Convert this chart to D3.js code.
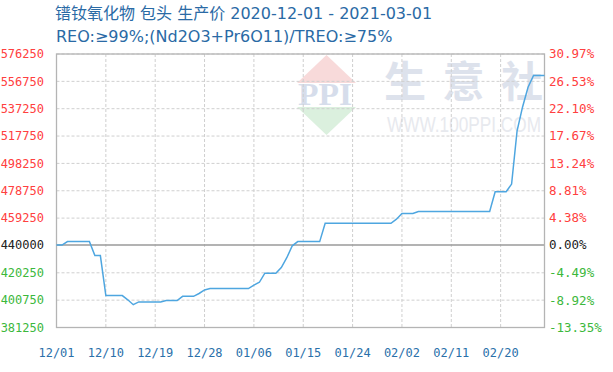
<!DOCTYPE html>
<html><head><meta charset="utf-8">
<script src="https://cdn.jsdelivr.net/npm/d3@7"></script>
<style>body{margin:0;background:#fff}svg{display:block}</style>
</head><body>
<svg id="c" width="613" height="372"></svg>
<script>
const titleLine1 = "镨钕氧化物 包头 生产价 2020-12-01 - 2021-03-01";
const titleLine2 = "REO:≥99%;(Nd2O3+Pr6O11)/TREO:≥75%";
const startDate = "2020-12-01";
const endDate = "2021-02-28";
const baseValue = 440000;
const yTicks = [381250, 400750, 420250, 440000, 459250, 478750, 498250, 517750, 537250, 556750, 576250];
const yPctLabels = ["-13.35%", "-8.92%", "-4.49%", "0.00%", "4.38%", "8.81%", "13.24%", "17.67%", "22.10%", "26.53%", "30.97%"];
const xTickLabels = ["12/01", "12/10", "12/19", "12/28", "01/06", "01/15", "01/24", "02/02", "02/11", "02/20"];
const prices = [
  440000, 440000, 442500, 442500, 442500, 442500, 442500, 432500, 432500, 404000,
  404000, 404000, 404000, 401000, 397500, 399500, 399500, 399500, 399500, 399500,
  400500, 400500, 400500, 403500, 403500, 403500, 405500, 408000, 409000, 409000,
  409000, 409000, 409000, 409000, 409000, 409000, 411500, 413500, 420000, 420000,
  420000, 424000, 431000, 439500, 442500, 442500, 442500, 442500, 442500, 455500,
  455500, 455500, 455500, 455500, 455500, 455500, 455500, 455500, 455500, 455500,
  455500, 455500, 458500, 462500, 462500, 462500, 464000, 464000, 464000, 464000,
  464000, 464000, 464000, 464000, 464000, 464000, 464000, 464000, 464000, 464000,
  478000, 478000, 478000, 483500, 521500, 538500, 552500, 561000, 561000, 561000
];

const parse = d3.timeParse("%Y-%m-%d");
const dates = d3.timeDay.range(parse(startDate), d3.timeDay.offset(parse(endDate), 1));

const svg = d3.select("#c");
const L = 56.5, R = 544.5, T = 54, B = 327.5;
const x = d3.scaleTime().domain([dates[0], dates[dates.length - 1]]).range([L, R]);
const y = d3.scaleLinear().domain([yTicks[0], yTicks[yTicks.length - 1]]).range([B, T]);

const mono = "'DejaVu Sans Mono', monospace";
const blue = "#2a6aa5";

// titles
svg.append("text").attr("x", 55).attr("y", 19).attr("fill", blue)
  .attr("font-family", "'DejaVu Sans','Noto Sans CJK SC',sans-serif").attr("font-size", 16).text(titleLine1);
svg.append("text").attr("x", 56).attr("y", 42).attr("fill", blue)
  .attr("font-family", "'DejaVu Sans','Noto Sans CJK SC',sans-serif").attr("font-size", 16).text(titleLine2);

// watermark
const wm = svg.append("g");
wm.append("path").attr("d", "M326.5,55 L297,83 L356,83 Z").attr("fill", "#f8dada");
wm.append("path").attr("d", "M297,107 L356,107 L326.5,135 Z").attr("fill", "#dbf0de");
wm.append("text").attr("x", 298).attr("y", 105).attr("textLength", 54).attr("lengthAdjust", "spacingAndGlyphs")
  .attr("font-family", "'Liberation Serif',serif").attr("font-weight", "bold").attr("font-size", 31)
  .attr("fill", "#d6ddeb").text("PPI");
["生", "意", "社"].forEach((ch, k) => {
  wm.append("text").attr("x", 405 + k * 58.5).attr("y", 97).attr("text-anchor", "middle")
    .attr("font-family", "'Noto Sans CJK SC',sans-serif").attr("font-weight", "bold").attr("font-size", 42)
    .attr("fill", "#dde2ec").text(ch);
});
wm.append("g").attr("transform", "translate(387,132) scale(1,1.35)")
  .append("text").attr("x", 0).attr("y", 0).attr("textLength", 154).attr("lengthAdjust", "spacingAndGlyphs")
  .attr("font-family", "'Liberation Sans',sans-serif").attr("font-size", 17)
  .attr("fill", "#e7e9ee").text("WWW.100PPI.COM");

// grid
const tickDates = xTickLabels.map((s, k) => dates[k * 9]);
svg.append("g").selectAll("line").data(tickDates.slice(1)).join("line")
  .attr("x1", d => x(d)).attr("x2", d => x(d)).attr("y1", T).attr("y2", B)
  .attr("stroke", "#cfcfcf").attr("stroke-dasharray", "3,2").attr("stroke-width", 1);
svg.append("g").selectAll("line").data(yTicks.filter(v => v !== baseValue)).join("line")
  .attr("x1", L).attr("x2", R).attr("y1", d => y(d)).attr("y2", d => y(d))
  .attr("stroke", "#cfcfcf").attr("stroke-dasharray", "3,2").attr("stroke-width", 1);

// zero line
svg.append("line").attr("x1", L).attr("x2", R).attr("y1", y(baseValue)).attr("y2", y(baseValue))
  .attr("stroke", "#9a9a9a").attr("stroke-width", 1.5);

// frame
svg.append("rect").attr("x", L).attr("y", T).attr("width", R - L).attr("height", B - T)
  .attr("fill", "none").attr("stroke", "#b4b4b4").attr("stroke-width", 1.3);

// line
svg.append("path").datum(prices)
  .attr("d", d3.line().x((d, i) => x(dates[i])).y(d => y(d)))
  .attr("fill", "none").attr("stroke", "#4ea6e0").attr("stroke-width", 1.5);

const col = v => v > baseValue ? "#ff4040" : (v < baseValue ? "#3cb83c" : "#222");

// left axis labels
svg.append("g").selectAll("text").data(yTicks).join("text")
  .attr("x", 44).attr("y", d => y(d)).attr("dy", "0.35em").attr("text-anchor", "end")
  .attr("font-family", mono).attr("font-size", 12).attr("fill", col).text(d => d);

// right axis labels
svg.append("g").selectAll("text").data(yTicks).join("text")
  .attr("x", 549).attr("y", d => y(d)).attr("dy", "0.35em").attr("text-anchor", "start")
  .attr("font-family", mono).attr("font-size", 12.5).attr("fill", col).text((d, i) => yPctLabels[i]);

// x labels
svg.append("g").selectAll("text").data(tickDates).join("text")
  .attr("x", d => x(d)).attr("y", 357).attr("text-anchor", "middle")
  .attr("font-family", mono).attr("font-size", 12).attr("fill", "#2a70aa").text((d, i) => xTickLabels[i]);
</script>
</body></html>
